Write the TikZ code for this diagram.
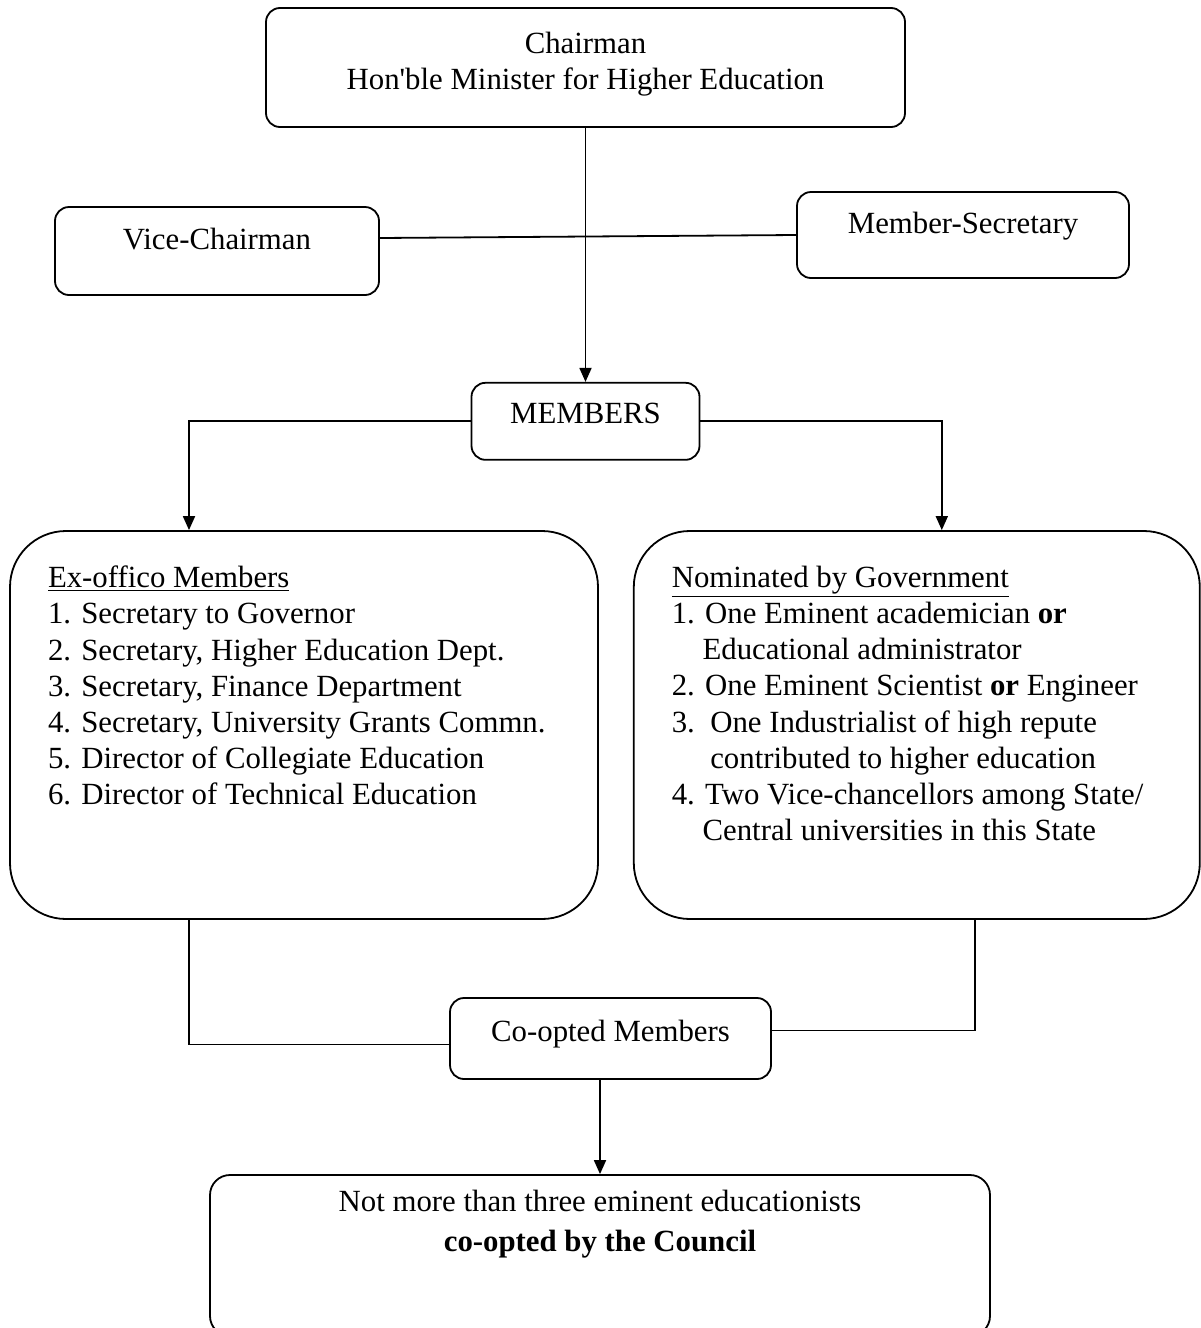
\documentclass[tikz,border=0pt]{standalone}
\usepackage{fontspec}
\setmainfont{Liberation Serif}
\usetikzlibrary{positioning, arrows.meta}
\newcommand{\boxfont}{\fontsize{15.4pt}{18.1pt}\selectfont}

\begin{document}
\begin{tikzpicture}[x=1pt, y=1pt, node distance=10pt,
  box/.style={draw, rounded corners=7pt, line width=0.9pt, font=\boxfont, align=center, inner sep=0pt},
  bigbox/.style={draw, rounded corners=28pt, line width=0.9pt, font=\boxfont, inner xsep=19pt, inner ysep=17.5pt},
  link/.style={line width=0.9pt},
  arr/.style={line width=0.9pt, -{Triangle[length=7pt, width=6pt]}}]
  \useasboundingbox (0,0) rectangle (600,-664);

  \node[box, minimum width=319.5pt, minimum height=59.5pt, text depth=7pt] (chair) at (292.75,-33.75) {Chairman\\Hon\textquotesingle ble Minister for Higher Education};
  \node[box, minimum width=162pt, minimum height=44pt, text depth=12pt] (vice) at (108.5,-125.5) {Vice-Chairman};
  \node[box, minimum width=166pt, minimum height=43pt, text depth=12pt] (msec) at (481.5,-117.5) {Member-Secretary};
  \node[box, minimum width=114pt, minimum height=38.5pt, text depth=8pt, below=127pt of chair] (memb) {MEMBERS};
  \node[bigbox, minimum width=294pt, minimum height=194pt] (exoff) at (152,-362.5) {\parbox[c][159pt][t]{256pt}{\raggedright
    \underline{Ex-offico Members}\\
    1. Secretary to Governor\\
    2. Secretary, Higher Education Dept.\\
    3. Secretary, Finance Department\\
    4. Secretary, University Grants Commn.\\
    5. Director of Collegiate Education\\
    6. Director of Technical Education}};
  \node[bigbox, minimum width=283pt, minimum height=194pt, right=17pt of exoff] (nomin) {\parbox[c][159pt][t]{245pt}{\raggedright
    \underline{Nominated by Government}\\
    1. One Eminent academician \textbf{or}\\
    \phantom{1.\ }Educational administrator\\
    2. One Eminent Scientist \textbf{or} Engineer\\
    3.\ \ One Industrialist of high repute\\
    \phantom{3.\ \ }contributed to higher education\\
    4. Two Vice-chancellors among State/\\
    \phantom{4.\ }Central universities in this State}};
  \node[box, minimum width=160.5pt, minimum height=40.5pt, text depth=8pt] (coopt) at (305.25,-519.25) {Co-opted Members};
  \node[box, rounded corners=10pt, minimum width=390pt, minimum height=80.5pt, text depth=34.5pt] (cncl) at (300,-627.75) {Not more than three eminent educationists\\[2pt]\textbf{co-opted by the Council}};

  \draw[link] ([yshift=6.5pt]vice.east) -- (msec.west);
  \draw[arr] (chair.south -| memb.north) -- (memb.north);
  \draw[arr] (memb.west) -| ([xshift=-57.5pt]exoff.north);
  \draw[arr] (memb.east) -| ([xshift=12.5pt]nomin.north);
  \draw[link] ([xshift=-57.5pt]exoff.south) |- ([yshift=-3pt]coopt.west);
  \draw[link] ([xshift=29pt]nomin.south) |- ([yshift=4pt]coopt.east);
  \draw[arr] (coopt.south -| cncl.north) -- (cncl.north);
\end{tikzpicture}
\end{document}
